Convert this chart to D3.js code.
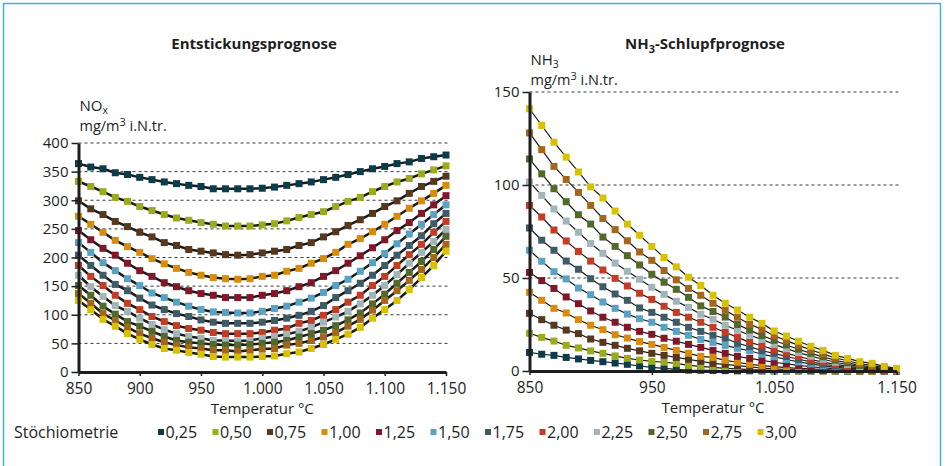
<!DOCTYPE html>
<html>
<head>
<meta charset="utf-8">
<script src="https://cdn.jsdelivr.net/npm/d3@7/dist/d3.min.js"></script>
<style>
body { margin: 0; background: #fff; }
svg text { font-family: "Open Sans", sans-serif; fill: #1e1e1e; }
</style>
</head>
<body>
<div id="here"></div>
<script>
// Data: temperatures (°C) and the 12 stoichiometry series

const temps = [850,860,870,880,890,900,910,920,930,940,950,960,970,980,990,1000,
    1010,1020,1030,1040,1050,1060,1070,1080,1090,1100,1110,1120,1130,1140,1150];

const stoich = ["0,25","0,50","0,75","1,00","1,25","1,50","1,75","2,00","2,25","2,50","2,75","3,00"];
const colors = ["#0b3c49","#9aab1b","#57381e","#d98c0a","#83172a","#58a3c4",
    "#3f5b66","#c43c23","#a2b6ba","#53692a","#a4661b","#d8c100"];

// NOx prognosis (mg/m3 i.N.tr.)
const nox025 = [364,358,355,348,345,340,336,332,329,326,324,320,320,320,320,321,323,326,329,332,336,340,345,350,355,359,364,367,373,376,379];
const nox050 = [333,324,315,305,298,289,282,275,269,265,261,258,255,255,255,257,259,264,270,275,280,289,298,305,315,324,332,338,346,353,360];
const nox075 = [299,285,275,263,254,244,236,226,221,214,211,208,205,204,205,208,211,214,221,226,236,245,256,266,277,289,299,312,324,333,342];
const nox100 = [272,258,244,230,219,209,198,189,181,174,169,165,163,162,163,167,169,176,181,190,198,209,223,233,245,258,272,286,299,312,326];
const nox125 = [247,231,216,204,190,177,167,156,149,142,137,134,130,130,130,134,137,142,149,156,167,177,190,203,217,231,247,261,277,292,308];
const nox150 = [226,209,191,177,163,151,138,130,122,115,109,105,104,103,103,106,111,115,122,129,139,151,162,176,191,207,224,241,258,275,292];
const nox175 = [204,186,169,153,142,129,117,109,102,97,91,87,85,85,85,87,90,94,99,106,116,130,142,155,169,186,204,221,238,259,277];
const nox200 = [186,167,151,134,120,109,97,88,81,76,73,69,67,67,67,69,73,76,85,90,99,109,122,134,151,167,186,205,223,244,263];
const nox225 = [169,149,132,116,106,94,83,74,67,62,59,55,55,54,55,59,62,66,71,78,87,96,106,119,134,151,170,190,209,228,249];
const nox250 = [151,134,115,101,88,80,71,62,55,52,50,48,47,47,48,50,52,55,61,67,73,81,91,103,119,136,155,174,193,214,237];
const nox275 = [137,120,102,90,78,67,59,52,47,43,41,38,38,36,38,40,41,47,50,55,61,69,80,92,108,125,142,160,179,200,223];
const nox300 = [125,109,92,80,67,57,48,41,38,34,31,27,26,26,26,27,28,32,35,41,48,57,66,78,94,109,125,144,165,186,211];

// NH3 slip prognosis (mg/m3 i.N.tr.)
const nh3025 = [10,9,8.4,7.3,6.5,5.7,5,4.3,3.6,2.7,2,1.4,0.9,0.5,0.4,0.3,0.2,0.1,0.1,0,0,0,0,0,0,0,0,0,0,0,0];
const nh3050 = [20.3,18.1,16.1,13.8,12.4,10.8,9.5,8.1,6.8,5.9,5.2,4.7,4.1,3,2.5,2,1.4,1.1,0.7,0.5,0.3,0.2,0.1,0.1,0,0,0,0,0,0,0];
const nh3075 = [31,27.6,24.6,22,20.1,17.2,15.4,13.8,12.2,10.8,9.5,8.4,7.3,6.3,5.2,4.1,3.6,2.9,2.2,1.6,1.1,0.8,0.6,0.4,0.3,0.2,0.1,0.1,0,0,0];
const nh3100 = [42.3,38,33.7,31.2,27.6,24.6,22.2,19.5,17.7,15.8,14.3,12.7,11.1,9.5,7.9,7.3,5.7,4.7,3.6,2.9,2.3,1.8,1.4,1.1,0.8,0.5,0.3,0.2,0.1,0,0];
const nh3125 = [53,48.6,44.4,39.8,36.2,32.3,28.9,26.2,23.5,21.3,19.7,17.6,16,14.3,12.7,11.1,9.5,7.9,6.8,5.7,4.7,3.8,3,2.3,1.7,1.2,0.8,0.5,0.3,0.1,0];
const nh3150 = [64.9,59,53.4,49.5,44.6,41,37.1,33.7,30.6,28.1,26.2,23.5,21.3,19.2,17,15.4,13.8,12.2,10.9,9,7.7,6.2,4.9,3.8,2.8,2,1.4,0.9,0.5,0.2,0.1];
const nh3175 = [76.9,70.3,64.9,59.1,54.7,49.6,45.3,41.4,38,33.9,31.5,28.9,26.2,23.5,21.3,19.2,17.6,14.9,13.1,10.9,9.5,7.8,6.3,4.9,3.7,2.7,1.9,1.2,0.7,0.4,0.1];
const nh3200 = [89,82.8,75.8,69.9,64.3,59.1,54.3,49.8,45.7,41.8,38.5,34.8,31.5,28.9,26.2,23.5,20.8,18.1,15.4,13.6,11.5,9.6,7.8,6.2,4.8,3.6,2.6,1.7,1.1,0.6,0.2];
const nh3225 = [101.6,94.4,87.1,80.6,74.6,68.5,63.3,58,53.6,49.3,45,41.2,37.5,34.2,30.5,27.8,24.6,21.9,19.2,17,14.3,12,9.9,8,6.3,4.7,3.5,2.4,1.6,0.9,0.4];
const nh3250 = [114,106,98,91,84,79,72,67,62,57,52,47.7,43.9,39.6,35,32,29,25,22,19,16.5,14,11.7,9.5,7.6,5.8,4.4,3,2.2,1.3,0.6];
const nh3275 = [128,119,110,103,96,89,82,76,70,64,59.5,54,49,44.4,40.7,36.4,32.6,28.9,25.1,22.4,19,16.3,13.8,11.3,9.2,7,5.5,3.9,3,1.8,0.9];
const nh3300 = [141,132,123,115,107,99,93,86,79,73,67,61,56,50.4,46,40.7,36.4,32.8,28.9,25.6,21.5,18.8,16,13.3,11.1,8.4,6.8,5,4.1,2.5,1.4];

const noxSeries = [nox025, nox050, nox075, nox100, nox125, nox150, nox175, nox200, nox225, nox250, nox275, nox300];
const nh3Series = [nh3025, nh3050, nh3075, nh3100, nh3125, nh3150, nh3175, nh3200, nh3225, nh3250, nh3275, nh3300];

const noxTicks = [0,50,100,150,200,250,300,350,400];
const nh3Ticks = [0,50,100,150];
const noxXTicks = [850,900,950,1000,1050,1100,1150];
const nh3XTicks = [850,950,1050,1150];

const width = 947;
const height = 466;

const svg = d3
    .select("#here")
    .append("svg")
    .attr("width", width)
    .attr("height", height);

// light blue frame
svg.append("path")
    .attr("d", "M3.5,470V3.5H940.5V470")
    .attr("fill", "none")
    .attr("stroke", "#45ade0")
    .attr("stroke-width", 1.5);

const de = d3.formatLocale({ decimal: ",", thousands: ".", grouping: [3], currency: ["", " €"] });
const fmtTemp = de.format(",");

function drawPanel(p) {
    const xScale = d3.scaleLinear().domain([850, 1150]).range([p.left, p.right]);
    const yScale = d3.scaleLinear().domain([0, p.yMax]).range([p.bottom, p.top]);

    // dashed grid lines
    svg.append("g")
        .selectAll("line")
        .data(p.yTicks.filter(d => d > 0))
        .enter()
        .append("line")
        .attr("x1", p.left)
        .attr("x2", p.right + 2)
        .attr("y1", d => yScale(d))
        .attr("y2", d => yScale(d))
        .attr("stroke", "#3a3a3a")
        .attr("stroke-width", 1)
        .attr("stroke-dasharray", "3,3");

    // series: line first, then square markers
    const line = d3.line()
        .x((d, i) => xScale(temps[i]))
        .y(d => yScale(d));

    p.series.forEach(function(values, k) {
        svg.append("path")
            .datum(values)
            .attr("d", line)
            .attr("fill", "none")
            .attr("stroke", "#1a1a1a")
            .attr("stroke-width", p.lineWidth);

        svg.append("g")
            .selectAll("rect")
            .data(values)
            .enter()
            .append("rect")
            .attr("x", (d, i) => xScale(temps[i]) - 3.5)
            .attr("y", d => yScale(d) - 3.5)
            .attr("width", 7)
            .attr("height", 7)
            .attr("fill", colors[k]);
    });

    // axes
    const yAxis = svg.append("g")
        .attr("transform", `translate(${p.left}, 0)`)
        .call(d3.axisLeft(yScale).tickValues(p.yTicks).tickSize(7).tickSizeOuter(0).tickPadding(3));

    const xAxis = svg.append("g")
        .attr("transform", `translate(0, ${p.bottom})`)
        .call(d3.axisBottom(xScale).tickValues(p.xTicks).tickSize(4).tickSizeOuter(0).tickPadding(7).tickFormat(fmtTemp));

    [yAxis, xAxis].forEach(function(ax) {
        ax.select(".domain").attr("stroke", "#1e1e1e").attr("stroke-width", 3);
        ax.selectAll(".tick line").attr("stroke", "#1e1e1e").attr("stroke-width", 1.5);
        ax.selectAll("text")
            .style("font-family", "'Open Sans', sans-serif")
            .attr("fill", "#1e1e1e");
    });
    yAxis.selectAll("text").style("font-size", "15px");
    xAxis.selectAll("text").style("font-size", "15.5px");

    // x axis title
    svg.append("text")
        .attr("x", (p.left + p.right) / 2)
        .attr("y", p.bottom + 42)
        .attr("text-anchor", "middle")
        .style("font-size", "15px")
        .text("Temperatur °C");

    // y unit label
    const unit1 = svg.append("text")
        .attr("x", p.left + 1)
        .attr("y", p.top - p.gasOffset)
        .style("font-size", "15px")
        .text(p.gas);
    unit1.append("tspan")
        .attr("dy", 3)
        .style("font-size", "10.5px")
        .text(p.sub);

    const unit2 = svg.append("text")
        .attr("x", p.left + 1)
        .attr("y", p.top - p.unitOffset)
        .style("font-size", "14.5px")
        .text("mg/m");
    unit2.append("tspan")
        .attr("dy", -5)
        .style("font-size", "11px")
        .text("3");
    unit2.append("tspan")
        .attr("dy", 5)
        .text(" i.N.tr.");

    // panel title
    const title = svg.append("text")
        .attr("x", p.titleX)
        .attr("y", 49)
        .attr("text-anchor", "middle")
        .style("font-weight", "bold");
    p.title.forEach(function(part) {
        title.append("tspan")
            .attr("dy", part.dy)
            .style("font-size", part.size)
            .text(part.t);
    });
}

drawPanel({
    left: 78.5, right: 446, top: 143, bottom: 372, yMax: 400,
    series: noxSeries, yTicks: noxTicks, xTicks: noxXTicks, lineWidth: 2.5,
    gas: "NO", sub: "x", titleX: 254, gasOffset: 32, unitOffset: 12,
    title: [{ t: "Entstickungsprognose", dy: 0, size: "15px" }]
});

drawPanel({
    left: 529.5, right: 896.5, top: 92, bottom: 371, yMax: 150,
    series: nh3Series, yTicks: nh3Ticks, xTicks: nh3XTicks, lineWidth: 1.2,
    gas: "NH", sub: "3", titleX: 705, gasOffset: 27, unitOffset: 7,
    title: [
        { t: "NH", dy: 0, size: "15px" },
        { t: "3", dy: 4, size: "11px" },
        { t: "-Schlupfprognose", dy: -4, size: "15px" }
    ]
});

// legend
svg.append("text")
    .attr("x", 14)
    .attr("y", 438)
    .style("font-size", "16px")
    .text("Stöchiometrie");

const legend = svg.append("g")
    .selectAll("g")
    .data(stoich)
    .enter()
    .append("g")
    .attr("transform", (d, i) => `translate(${158 + i * 54.5}, 0)`);

legend.append("rect")
    .attr("x", 0)
    .attr("y", 429)
    .attr("width", 6)
    .attr("height", 6)
    .attr("fill", (d, i) => colors[i]);

legend.append("text")
    .attr("x", 7.5)
    .attr("y", 438)
    .style("font-size", "16px")
    .text(d => d);
</script>
</body>
</html>
